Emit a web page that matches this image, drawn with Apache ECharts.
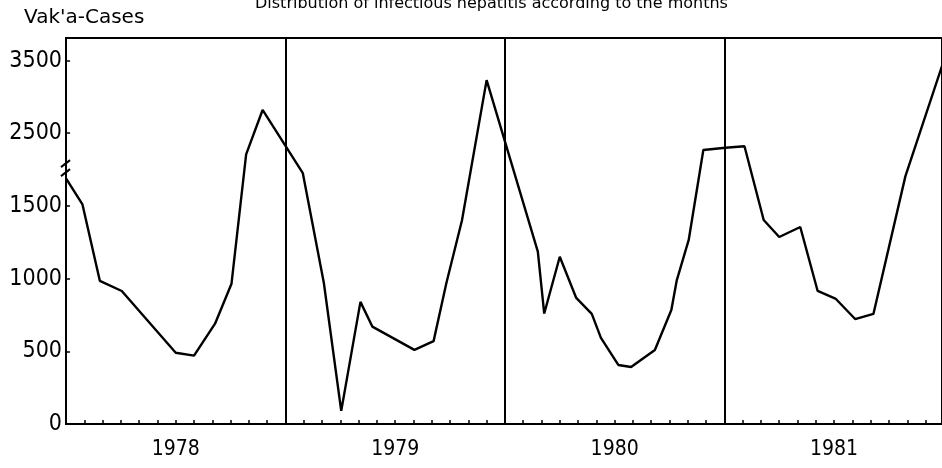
<!DOCTYPE html>
<html>
<head>
<meta charset="utf-8">
<script src="https://cdn.jsdelivr.net/npm/echarts@6/dist/echarts.min.js"></script>
<style>
  html, body { margin: 0; padding: 0; background: #fff; }
  #chart { width: 942px; height: 468px; }
</style>
</head>
<body>
<div id="chart"></div>
<script>
// month position (0 = start of Jan 1978) of each vertex of the curve
const monthPos = [0, 0.9, 1.85, 3.05, 6.0, 7.0, 8.15, 9.05, 9.85, 10.75,
  12.95, 14.1, 15.05, 16.1, 16.75, 19.05, 20.1, 20.8, 21.65, 23.0,
  25.8, 26.15, 27.0, 27.9, 28.75, 29.25, 30.2, 30.9, 32.2, 33.1, 33.4, 34.05, 34.85,
  36.05, 37.1, 38.15, 39.0, 40.15, 41.1, 42.1, 43.15, 44.15, 45.9, 48]
// cases
const cases = [1880, 1520, 985, 915, 490, 470, 690, 965, 2210, 2820,
  1950, 970, 90, 840, 670, 510, 570, 970, 1400, 3230,
  1185, 760, 1150, 867, 757, 592, 406, 392, 509, 784, 990, 1266, 2270,
  2300, 2320, 1403, 1286, 1355, 915, 860, 722, 757, 1910, 3500]

const years = ['1978', '1979', '1980', '1981']
const yearDividers = [12, 24, 36]
const yTicks = [0, 500, 1000, 1500, 2500, 3500]

// axis is broken above 1500: upper part drawn at half scale
const breakFrom = 1500
function toAxis(v) {
  return v <= breakFrom ? v : breakFrom + (v - breakFrom) / 2
}
function fromAxis(t) {
  return t <= breakFrom ? t : breakFrom + (t - breakFrom) * 2
}

const chart = echarts.init(document.getElementById('chart'))
const font = 'DejaVu Sans Condensed'

const option = {
  animation: false,
  title: {
    text: 'Distribution of infectious hepatitis according to the months',
    left: 250,
    top: -9,
    textStyle: { fontFamily: 'DejaVu Sans', fontSize: 16, fontWeight: 'normal', color: '#000' },
  },
  grid: {
    left: 66,
    right: -2,
    top: 38,
    bottom: 44,
    show: true,
    borderColor: '#000',
    borderWidth: 2,
  },
  xAxis: {
    type: 'value',
    min: 0,
    max: 47.9,
    interval: 1,
    splitLine: { show: false },
    axisLine: { lineStyle: { color: '#000', width: 2 } },
    axisTick: { inside: true, length: 4, lineStyle: { color: '#000', width: 1.5 } },
    axisLabel: {
      margin: 15,
      color: '#000',
      fontFamily: font,
      fontSize: 21,
      showMaxLabel: false,
      formatter: v => {
        const k = (v - 6) / 12
        return Number.isInteger(k) && years[k] ? years[k] : ''
      },
    },
  },
  yAxis: {
    type: 'value',
    min: 0,
    max: 2655,
    interval: 500,
    splitLine: { show: false },
    axisLine: { lineStyle: { color: '#000', width: 2 } },
    axisTick: { inside: true, length: 4, lineStyle: { color: '#000', width: 1.5 } },
    axisLabel: {
      margin: 4,
      color: '#000',
      fontFamily: font,
      fontSize: 23,
      formatter: t => {
        const v = fromAxis(t)
        return yTicks.includes(v) ? String(v) : ''
      },
    },
  },
  series: [
    {
      type: 'line',
      data: monthPos.map((m, i) => [m, toAxis(cases[i])]),
      showSymbol: false,
      clip: true,
      lineStyle: { color: '#000', width: 2.4 },
      markLine: {
        silent: true,
        symbol: 'none',
        label: { show: false },
        lineStyle: { color: '#000', width: 2, type: 'solid' },
        data: yearDividers.map(x => ({ xAxis: x })),
      },
    },
  ],
}
chart.setOption(option)

// y axis name and break marks
const [bx, by] = chart.convertToPixel({ gridIndex: 0 }, [0, 1760])
chart.setOption({
  graphic: [
    {
      type: 'text',
      left: 24,
      top: 8,
      style: { text: "Vak'a-Cases", font: 'normal 20px "DejaVu Sans"', fill: '#000' },
    },
    {
      type: 'line',
      shape: { x1: bx - 5, y1: by - 1, x2: bx + 4, y2: by - 8 },
      style: { stroke: '#000', lineWidth: 2 },
    },
    {
      type: 'line',
      shape: { x1: bx - 5, y1: by + 8, x2: bx + 4, y2: by + 1 },
      style: { stroke: '#000', lineWidth: 2 },
    },
  ],
})
</script>
</body>
</html>
